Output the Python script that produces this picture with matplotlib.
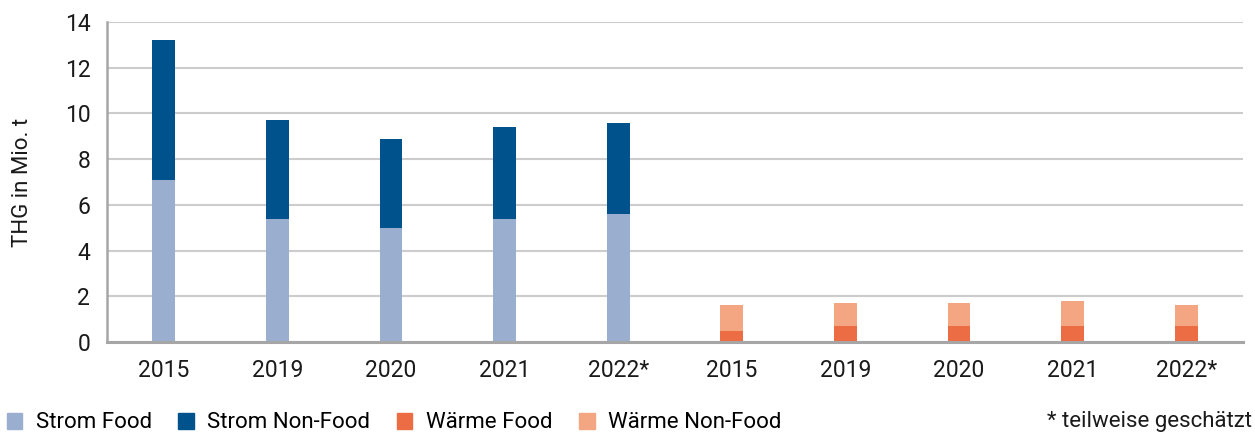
import numpy as np
import matplotlib.pyplot as plt
from matplotlib.patches import Patch

plt.rcParams['font.family'] = ['Roboto', 'DejaVu Sans']

# THG-Emissionen (Mio. t) aus Strom und Wärme, Food / Non-Food
years = ['2015', '2019', '2020', '2021', '2022*']
strom_food = [7.1, 5.4, 5.0, 5.4, 5.6]
strom_nonfood = [6.1, 4.3, 3.9, 4.0, 4.0]
waerme_food = [0.5, 0.7, 0.7, 0.7, 0.7]
waerme_nonfood = [1.1, 1.0, 1.0, 1.1, 0.9]

c_sf = '#9AAFCF'
c_snf = '#00528C'
c_wf = '#EC6C43'
c_wnf = '#F4A582'

fig = plt.figure(figsize=(12.55, 4.32), dpi=100)
ax = fig.add_axes([107 / 1255, 1 - 342 / 432, (1243 - 107) / 1255, 320 / 432])

n = len(years)
x_strom = np.arange(n)
x_waerme = np.arange(n) + n
w = 0.2

ax.bar(x_strom, strom_food, width=w, color=c_sf, zorder=3)
ax.bar(x_strom, strom_nonfood, width=w, bottom=strom_food, color=c_snf, zorder=3)
ax.bar(x_waerme, waerme_food, width=w, color=c_wf, zorder=3)
ax.bar(x_waerme, waerme_nonfood, width=w, bottom=waerme_food, color=c_wnf, zorder=3)

ax.set_xlim(-0.5, 2 * n - 0.5)
ax.set_ylim(0, 14)
ax.set_yticks(range(0, 15, 2))
ax.set_xticks(np.arange(2 * n))
ax.set_xticklabels(years + years)

ax.grid(axis='y', color='#CCCCCC', linewidth=1.5, zorder=0)
ax.set_axisbelow(True)
for s in ['top', 'right']:
    ax.spines[s].set_visible(False)
ax.spines['left'].set_color('#A6A6A6')
ax.spines['left'].set_linewidth(1.8)
ax.spines['bottom'].set_color('#A6A6A6')
ax.spines['bottom'].set_linewidth(2.2)
ax.spines['bottom'].set_zorder(4)

ax.tick_params(axis='both', length=0, labelsize=16.5, colors='#1A1A1A')
ax.tick_params(axis='x', pad=12)
ax.tick_params(axis='y', pad=12)
ax.set_ylabel('THG in Mio. t', fontsize=16, color='#1A1A1A', labelpad=23)

handles = [
    Patch(color=c_sf, label='Strom Food'),
    Patch(color=c_snf, label='Strom Non-Food'),
    Patch(color=c_wf, label='Wärme Food'),
    Patch(color=c_wnf, label='Wärme Non-Food'),
]
fig.legend(handles=handles, loc='center left', bbox_to_anchor=(0.0, 1 - 423 / 432),
           ncol=4, frameon=False, fontsize=16, handlelength=0.7, handleheight=0.7,
           handletextpad=0.6, columnspacing=1.2, borderpad=0, borderaxespad=0.3)

fig.text(1252 / 1255, 1 - 422 / 432, '* teilweise geschätzt', ha='right', va='center',
         fontsize=16, color='#1A1A1A')

fig.savefig('out.png', dpi=100)
